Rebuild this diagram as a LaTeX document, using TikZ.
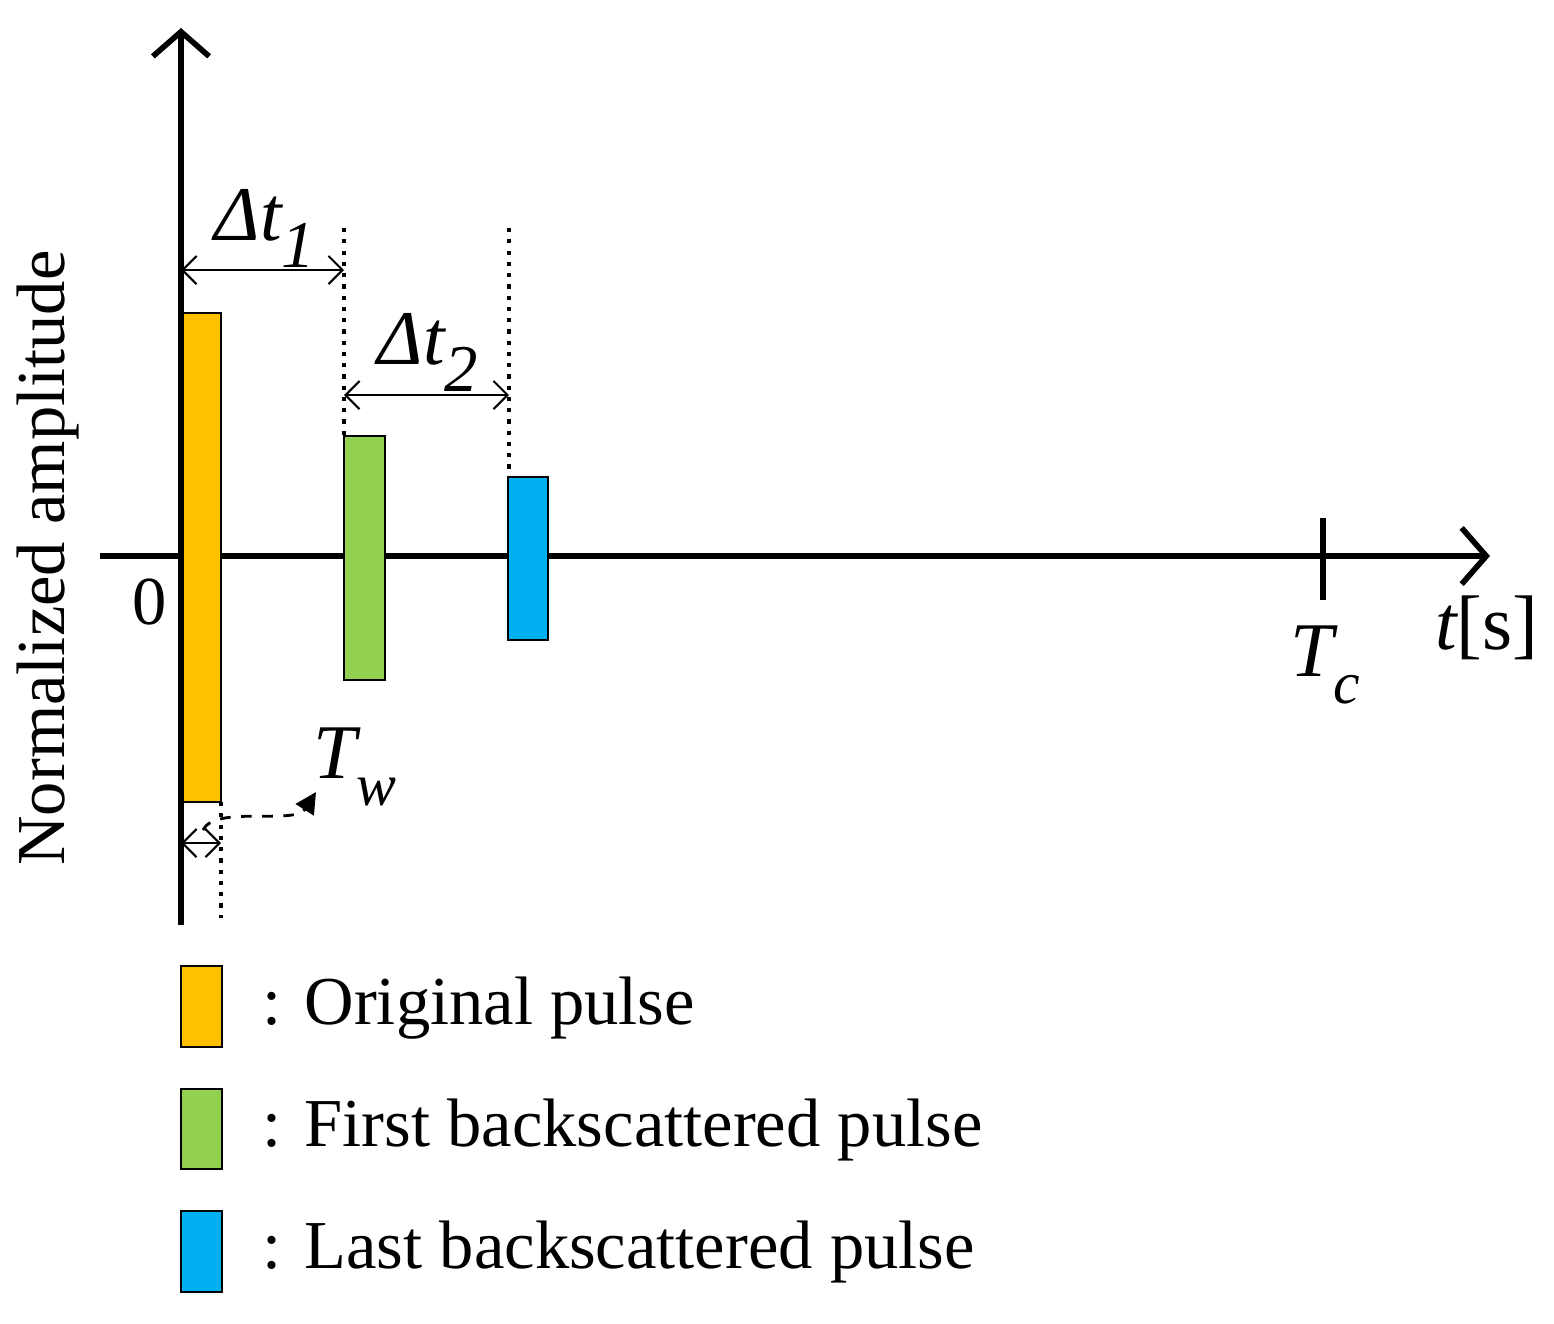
\documentclass[tikz,border=0pt]{standalone}
\usepackage{fontspec}
\setmainfont{Liberation Serif}
\usetikzlibrary{arrows.meta}
\definecolor{orng}{HTML}{FFC000}
\definecolor{grn}{HTML}{92D050}
\definecolor{blu}{HTML}{00B0F0}
\begin{document}
\begin{tikzpicture}[x=0.01cm,y=-0.01cm,
  axis/.style={line width=1.6pt,-{Straight Barb[length=7pt,width=16pt,line width=1.6pt]}},
  dots/.style={line width=1.2pt,dotted},
  dim/.style={line width=0.6pt,{Straight Barb[length=4pt,width=8pt]}-{Straight Barb[length=4pt,width=8pt]}},
  lbl/.style={font=\fontsize{19.5}{23}\selectfont,inner sep=0pt},
  mlbl/.style={font=\fontsize{22}{26}\selectfont\itshape,inner sep=0pt}]
\useasboundingbox (0,0) rectangle (1554,1323);
\coordinate (yb) at (181,925); \coordinate (yt) at (181,28);
\coordinate (xl) at (100,556); \coordinate (xr) at (1490,556);
\draw[axis] (yb) -- (yt);
\draw[axis] (xl) -- (xr);
\coordinate (tc1) at (1323,518); \coordinate (tc2) at (1323,600);
\draw[line width=1.6pt] (tc1) -- (tc2);
\node[mlbl] (tc) at (1325,665) {T\raisebox{-0.35em}{\fontsize{17}{20}\selectfont c}};
\node[mlbl] (ts) at (1487,628) {t\upshape[s]};
\node[lbl] (zero) at (150,602) {0};
\fill[orng,draw=black,line width=0.8pt] (183,313) rectangle (221,802);
\fill[grn,draw=black,line width=0.8pt] (344,436) rectangle (385,680);
\fill[blu,draw=black,line width=0.8pt] (508,477) rectangle (548,640);
\coordinate (d1a) at (181,230); \coordinate (d1b) at (181,313);
\coordinate (d2a) at (344,228); \coordinate (d2b) at (344,436);
\coordinate (d3a) at (509,228); \coordinate (d3b) at (509,477);
\coordinate (d4a) at (221,802); \coordinate (d4b) at (221,918);
\foreach \a/\b in {d1a/d1b,d2a/d2b,d3a/d3b,d4a/d4b} \draw[dots] (\a) -- (\b);
\coordinate (a1) at (181,270); \coordinate (b1) at (344,270);
\draw[dim] (a1) -- (b1);
\node[mlbl] (dt1) at (265,228) {Δt\raisebox{-0.35em}{\fontsize{19}{22}\selectfont 1}};
\coordinate (a2) at (344,395); \coordinate (b2) at (509,395);
\draw[dim] (a2) -- (b2);
\node[mlbl] (dt2) at (428,352) {Δt\raisebox{-0.35em}{\fontsize{19}{22}\selectfont 2}};
\coordinate (a3) at (181,843); \coordinate (b3) at (221,843);
\draw[dim] (a3) -- (b3);
\coordinate (c1) at (203,830); \coordinate (c2) at (316,792);
\draw[line width=0.8pt,dashed,-{Triangle[length=6pt,width=6pt]}] (c1) .. controls (215,805) and (295,825) .. (c2);
\node[mlbl] (tw) at (355,767) {T\raisebox{-0.35em}{\fontsize{17}{20}\selectfont w}};
\node[lbl,rotate=90] (ylab) at (48,558) {Normalized amplitude};
\fill[orng,draw=black,line width=0.8pt] (181,966) rectangle (222,1047);
\fill[grn,draw=black,line width=0.8pt] (181,1089) rectangle (222,1169);
\fill[blu,draw=black,line width=0.8pt] (181,1211) rectangle (222,1292);
\node[lbl,anchor=west] (l1) at (262,1008) {: Original pulse};
\node[lbl,anchor=west] (l2) at (262,1130) {: First backscattered pulse};
\node[lbl,anchor=west] (l3) at (262,1252) {: Last backscattered pulse};
\end{tikzpicture}
\end{document}
